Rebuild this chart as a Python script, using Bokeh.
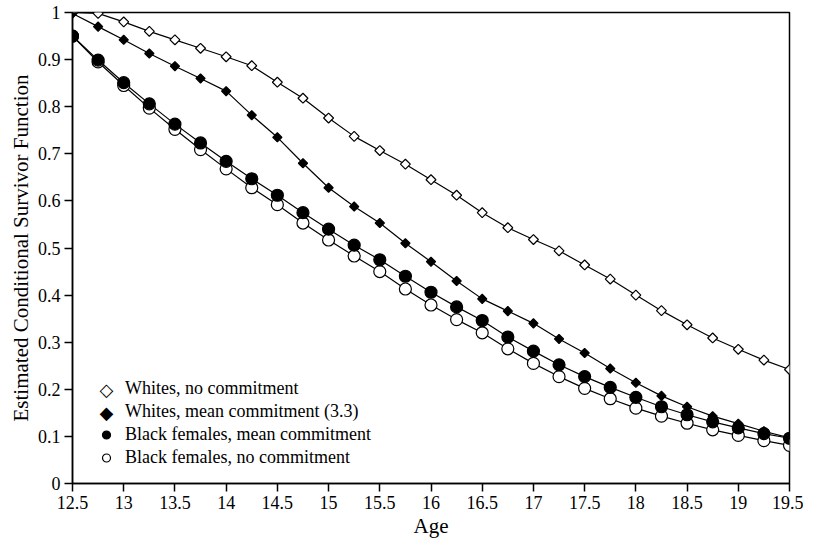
import numpy as np
from bokeh.plotting import figure
from bokeh.models import Legend, LegendItem, FixedTicker, CustomJSTickFormatter, Range1d, Label
from bokeh.embed import file_html
from bokeh.resources import INLINE

age = [12.5, 12.75, 13.0, 13.25, 13.5, 13.75, 14.0, 14.25, 14.5, 14.75, 15.0, 15.25, 15.5, 15.75,
       16.0, 16.25, 16.5, 16.75, 17.0, 17.25, 17.5, 17.75, 18.0, 18.25, 18.5, 18.75, 19.0, 19.25, 19.5]

whites_no = [1.0, 0.998, 0.98, 0.96, 0.942, 0.924, 0.906, 0.887, 0.852, 0.818, 0.776, 0.737, 0.707, 0.678,
             0.645, 0.612, 0.575, 0.543, 0.518, 0.494, 0.464, 0.434, 0.400, 0.367, 0.337, 0.309, 0.285, 0.262, 0.242]
whites_mean = [0.998, 0.97, 0.942, 0.913, 0.886, 0.86, 0.833, 0.782, 0.735, 0.68, 0.628, 0.588, 0.553, 0.51,
               0.471, 0.43, 0.392, 0.366, 0.34, 0.307, 0.277, 0.244, 0.214, 0.186, 0.163, 0.143, 0.127, 0.111, 0.097]
black_mean = [0.95, 0.899, 0.851, 0.806, 0.763, 0.723, 0.684, 0.647, 0.612, 0.575, 0.54, 0.506, 0.475, 0.44,
              0.406, 0.375, 0.346, 0.311, 0.281, 0.252, 0.227, 0.204, 0.183, 0.163, 0.146, 0.131, 0.118, 0.106, 0.096]
black_no = [0.95, 0.895, 0.845, 0.797, 0.752, 0.709, 0.668, 0.628, 0.592, 0.553, 0.517, 0.483, 0.45, 0.413,
            0.379, 0.348, 0.32, 0.286, 0.255, 0.227, 0.202, 0.18, 0.16, 0.143, 0.128, 0.114, 0.102, 0.091, 0.081]

labels = ["Whites, no commitment", "Whites, mean commitment (3.3)",
          "Black females, mean commitment", "Black females, no commitment"]

x_ticks = [12.5, 13, 13.5, 14, 14.5, 15, 15.5, 16, 16.5, 17, 17.5, 18, 18.5, 19, 19.5]
y_ticks = [0, 0.1, 0.2, 0.3, 0.4, 0.5, 0.6, 0.7, 0.8, 0.9, 1]

FONT = "Liberation Serif"

p = figure(width=803, height=540, output_backend="svg", toolbar_location=None,
           x_range=Range1d(12.5, 19.5), y_range=Range1d(0, 1),
           min_border_left=72, min_border_right=14, min_border_top=12, min_border_bottom=50)
p.grid.visible = False
p.outline_line_color = "black"
p.outline_line_width = 1.5
p.background_fill_color = "white"
p.border_fill_color = "white"

fmt = CustomJSTickFormatter(code="return tick.toString();")
for ax, ticks in ((p.xaxis[0], x_ticks), (p.yaxis[0], y_ticks)):
    ax.ticker = FixedTicker(ticks=ticks)
    ax.formatter = fmt
    ax.minor_tick_line_color = None
    ax.major_tick_in = 0
    ax.major_tick_out = 8
    ax.major_tick_line_width = 1.5
    ax.axis_line_width = 1.5
    ax.axis_line_color = "black"
    ax.major_tick_line_color = "black"
    ax.major_label_text_font = FONT
    ax.major_label_text_font_size = "18px"
    ax.major_label_text_color = "black"
    ax.major_label_standoff = 4
    ax.axis_label_text_font = FONT
    ax.axis_label_text_font_size = "21px"
    ax.axis_label_text_font_style = "normal"
    ax.axis_label_text_color = "black"
    ax.axis_label_standoff = 2

p.xaxis.axis_label = "Age"
p.yaxis.axis_label = "Estimated Conditional Survivor Function"

series = [
    (whites_no, "square", 7, "white", np.pi / 4),
    (whites_mean, "square", 6.5, "black", np.pi / 4),
    (black_mean, "circle", 12, "black", 0),
    (black_no, "circle", 12, "white", 0),
]

for ys, *_ in series:
    p.line(age, ys, line_color="black", line_width=1.2)

marker_renderers = {}
for idx in (0, 1, 3, 2):
    ys, marker, size, fill, ang = series[idx]
    marker_renderers[idx] = p.scatter(age, ys, marker=marker, size=size, fill_color=fill,
                                      line_color="black", line_width=1.2, angle=ang)

# Legend: diamond rows get an invisible placeholder glyph with a text symbol drawn on top
LX, LY, ROW = 24, 15, 23
blank = p.line([], [], line_alpha=0)
legend_r = [blank, blank, marker_renderers[2], marker_renderers[3]]
legend = Legend(items=[LegendItem(label=l, renderers=[r]) for l, r in zip(labels, legend_r)],
                location=(LX, LY), padding=0, spacing=2, glyph_width=20, glyph_height=21,
                label_height=21, label_standoff=9, border_line_color=None,
                background_fill_alpha=0, label_text_font=FONT, label_text_font_size="18px",
                label_text_color="black", margin=0)
p.add_layout(legend, "center")

for sym, row in (("\u25c7", 0), ("\u25c6", 1)):
    p.add_layout(Label(x=LX + 10, y=LY + (3 - row) * ROW + 10.5, x_units="screen", y_units="screen",
                       text=sym, text_font="DejaVu Sans", text_font_size="18px",
                       text_align="center", text_baseline="middle", text_color="black"))

open("out.html", "w").write(file_html(p, INLINE))
